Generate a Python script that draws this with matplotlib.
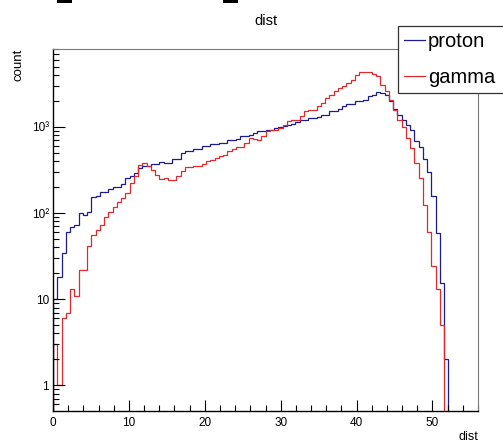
import numpy as np
import matplotlib
matplotlib.use("Agg")
from matplotlib import pyplot as plt
from matplotlib.lines import Line2D
from matplotlib.patches import Rectangle
from matplotlib.ticker import MultipleLocator, LogLocator, NullFormatter

# histogram: 100 bins of width 0.56 on [0, 56], empty bins left off at the end
bin_lo = 0.0
bin_hi = 56.0
n_bins = 100

proton = [
    10, 18, 34, 60, 69, 73, 100, 94, 102, 152,
    160, 175, 178, 190, 200, 202, 220, 258, 267, 290,
    334, 355, 350, 374, 376, 389, 382, 380, 425, 420,
    499, 520, 522, 555, 558, 595, 597, 640, 642, 645,
    650, 711, 715, 720, 792, 795, 813, 850, 889, 910,
    930, 935, 973, 1000, 1036, 1064, 1070, 1132, 1217, 1220,
    1274, 1280, 1307, 1390, 1395, 1520, 1525, 1619, 1737, 1867,
    1870, 1986, 1990, 2080, 2274, 2380, 2550, 2490, 2380, 1990,
    1620, 1390, 1220, 1060, 930, 680, 585, 430, 300, 157,
    58, 15.5, 2,
]

gamma = [
    3, 1, 6, 7, 13, 11, 22, 22, 41, 56,
    64, 72, 91, 104, 117, 133, 150, 172, 225, 272,
    364, 381, 348, 320, 279, 249, 255, 244, 244, 267,
    305, 343, 345, 348, 350, 375, 400, 417, 436, 456,
    477, 521, 555, 586, 590, 652, 745, 725, 712, 792,
    889, 913, 920, 973, 1064, 1161, 1217, 1220, 1354, 1520,
    1588, 1595, 1737, 1901, 2174, 2376, 2594, 2837, 3020, 3243,
    3548, 4056, 4314, 4330, 4314, 4170, 3878, 3103, 2594, 2080,
    1588, 1217, 1000, 745, 569, 380, 255, 125, 61, 24.4,
    13, 5,
]

xtick_vals = [0, 10, 20, 30, 40, 50]
ytick_vals = [1, 10, 100, 1000]
ytick_labels = ["1", "10", "10²", "10³"]

blue = "#1c1c8e"
red = "#dc2a2e"
sans = ["Liberation Sans", "DejaVu Sans"]

edges = np.linspace(bin_lo, bin_hi, n_bins + 1)

fig = plt.figure(figsize=(5.03, 4.44), dpi=100)
ax = fig.add_axes([53 / 503, 33 / 444, 425 / 503, 362 / 444])

ax.stairs(proton, edges[:len(proton) + 1], color=blue, lw=0.9, baseline=1e-3)
ax.stairs(gamma, edges[:len(gamma) + 1], color=red, lw=0.9, baseline=1e-3)

ax.set_yscale("log")
ax.set_xlim(0, 56)
ax.set_ylim(0.503, 8050)

ax.set_xticks(xtick_vals)
ax.xaxis.set_minor_locator(MultipleLocator(2))
ax.set_yticks(ytick_vals, ytick_labels)
ax.yaxis.set_minor_locator(LogLocator(base=10, subs=np.arange(2, 10)))
ax.yaxis.set_minor_formatter(NullFormatter())

ax.tick_params(which="both", direction="in", top=False, right=False,
               color="black", width=0.8)
ax.tick_params(axis="x", which="major", length=8, pad=4)
ax.tick_params(axis="x", which="minor", length=4.3)
ax.tick_params(axis="y", which="major", length=8.6, pad=3)
ax.tick_params(axis="y", which="minor", length=4.3)
for lab in ax.get_xticklabels() + ax.get_yticklabels():
    lab.set_family(sans)
    lab.set_fontsize(8.5)

for side in ["left", "bottom"]:
    ax.spines[side].set_color("black")
    ax.spines[side].set_linewidth(1.0)
for side in ["top", "right"]:
    ax.spines[side].set_color("#7a7a7a")
    ax.spines[side].set_linewidth(0.8)

fig.text(265.5 / 503, 1 - 25 / 444, "dist", ha="center", va="baseline",
         family=sans, fontsize=10.5)
fig.text(478 / 503, 1.5 / 444, "dist", ha="right", va="bottom",
         family=sans, fontsize=9)
fig.text(19 / 503, 1 - 49 / 444, "count", rotation=90, ha="center", va="top",
         family=sans, fontsize=9.5)

handles = [Line2D([], [], color=blue, lw=0.9), Line2D([], [], color=red, lw=0.9)]
leg = ax.legend(handles, ["proton", "gamma"], loc="upper left",
                bbox_to_anchor=(398 / 503, 1 - 94 / 444, 130 / 503, 68 / 444),
                bbox_transform=fig.transFigure, mode="expand", borderaxespad=0,
                fancybox=False, framealpha=1, edgecolor="#333333",
                prop={"family": sans, "size": 14.5}, handlelength=1.05,
                handletextpad=0.13, borderpad=0.3, labelspacing=0.85)
leg.get_frame().set_linewidth(0.9)

# cut-off marks at the very top edge of the canvas
for x0 in [57, 223]:
    fig.add_artist(Rectangle((x0 / 503, 1 - 3 / 444), 15 / 503, 3 / 444,
                             transform=fig.transFigure, color="black", lw=0))

fig.savefig("out.png", dpi=100)
